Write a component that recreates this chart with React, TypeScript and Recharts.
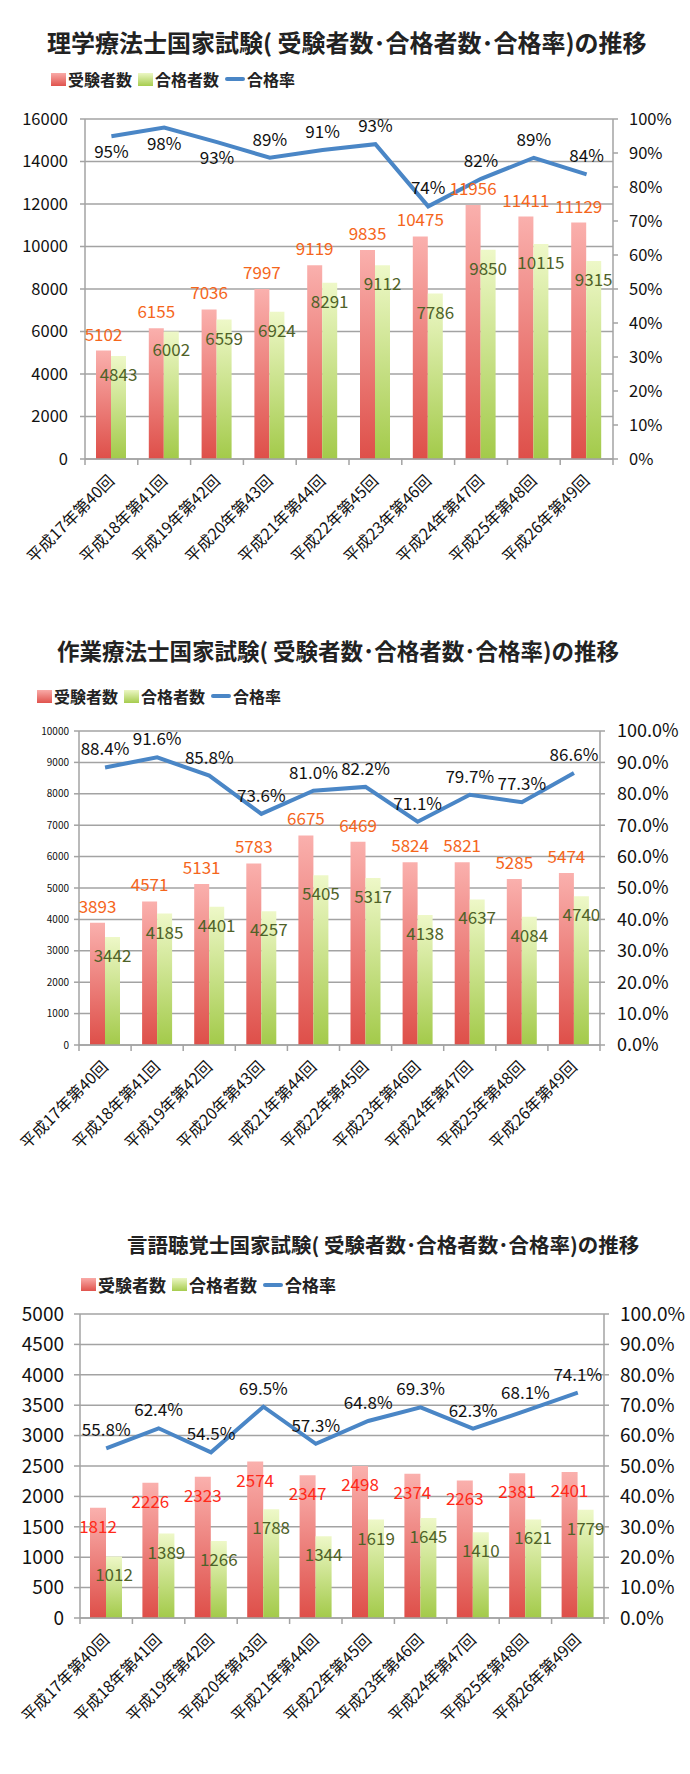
import React from 'react'
import {
  ComposedChart,
  Bar,
  Line,
  XAxis,
  YAxis,
  CartesianGrid,
  LabelList
} from 'recharts'

const categories = [
  '平成17年第40回',
  '平成18年第41回',
  '平成19年第42回',
  '平成20年第43回',
  '平成21年第44回',
  '平成22年第45回',
  '平成23年第46回',
  '平成24年第47回',
  '平成25年第48回',
  '平成26年第49回'
]

// 理学療法士
const ptExaminees = [5102, 6155, 7036, 7997, 9119, 9835, 10475, 11956, 11411, 11129]
const ptPassers = [4843, 6002, 6559, 6924, 8291, 9112, 7786, 9850, 10115, 9315]
const ptRates = [94.9, 97.5, 93.2, 88.6, 90.9, 92.6, 74.3, 82.4, 88.6, 83.7]
const ptRateSides = ['below', 'below', 'below', 'above', 'above', 'above', 'above', 'above', 'above', 'above']
const ptCountTicks = [0, 2000, 4000, 6000, 8000, 10000, 12000, 14000, 16000]

// 作業療法士
const otExaminees = [3893, 4571, 5131, 5783, 6675, 6469, 5824, 5821, 5285, 5474]
const otPassers = [3442, 4185, 4401, 4257, 5405, 5317, 4138, 4637, 4084, 4740]
const otRates = [88.4, 91.6, 85.8, 73.6, 81.0, 82.2, 71.1, 79.7, 77.3, 86.6]
const otCountTicks = [0, 1000, 2000, 3000, 4000, 5000, 6000, 7000, 8000, 9000, 10000]

// 言語聴覚士
const stExaminees = [1812, 2226, 2323, 2574, 2347, 2498, 2374, 2263, 2381, 2401]
const stPassers = [1012, 1389, 1266, 1788, 1344, 1619, 1645, 1410, 1621, 1779]
const stRates = [55.8, 62.4, 54.5, 69.5, 57.3, 64.8, 69.3, 62.3, 68.1, 74.1]
const stCountTicks = [0, 500, 1000, 1500, 2000, 2500, 3000, 3500, 4000, 4500, 5000]

const rateTicks = [0, 10, 20, 30, 40, 50, 60, 70, 80, 90, 100]

const FONT = '"Noto Sans CJK JP", "Noto Sans", sans-serif'
const GRID = '#a3a3a3'
const BLUE = '#4a86c6'
const GREEN_TEXT = '#4f6228'
const W = 690

type Row = { name: string; examinees: number; passers: number; rate: number }

function buildRows(ex: number[], ps: number[], rt: number[]): Row[] {
  return categories.map((name, i) => ({ name, examinees: ex[i], passers: ps[i], rate: rt[i] }))
}

function box(props: any) {
  const vb = props.viewBox || {}
  return {
    x: vb.x ?? props.x,
    y: vb.y ?? props.y,
    width: vb.width ?? props.width ?? 0,
    height: vb.height ?? props.height ?? 0
  }
}

function XTick(props: any) {
  const { x, y, payload, index, band } = props
  return (
    <g>
      <line x1={x - band / 2} y1={y} x2={x - band / 2} y2={y + 6} stroke={GRID} strokeWidth={1.5} />
      {index === categories.length - 1 && (
        <line x1={x + band / 2} y1={y} x2={x + band / 2} y2={y + 6} stroke={GRID} strokeWidth={1.5} />
      )}
      <text
        transform={`translate(${x + 4},${y + 23}) rotate(-45)`}
        textAnchor="end"
        fontSize={16}
        fontFamily={FONT}
        fill="#111"
      >
        {payload.value}
      </text>
    </g>
  )
}

function LegendRow({ left, top, fontSize }: { left: number; top: number; fontSize: number }) {
  const item = { display: 'flex', alignItems: 'center', marginRight: 6 } as React.CSSProperties
  return (
    <div
      style={{
        position: 'absolute',
        left,
        top,
        display: 'flex',
        alignItems: 'center',
        fontFamily: FONT,
        fontSize,
        fontWeight: 'bold',
        color: '#222',
        whiteSpace: 'nowrap',
        lineHeight: 1
      }}
    >
      <div style={item}>
        <span style={{ width: 15, height: 13, background: 'linear-gradient(#f9aaa7, #e0534d)', marginRight: 2 }} />
        受験者数
      </div>
      <div style={item}>
        <span style={{ width: 15, height: 13, background: 'linear-gradient(#ecf7c4, #a6cc4e)', marginRight: 2 }} />
        合格者数
      </div>
      <div style={item}>
        <span style={{ width: 20, height: 4, background: BLUE, borderRadius: 2, marginRight: 2 }} />
        合格率
      </div>
    </div>
  )
}

interface BlockProps {
  id: string
  title: string
  titleLeft: number
  titleTop: number
  titleSize: number
  legendLeft: number
  legendTop: number
  legendSize: number
  top: number
  height: number
  marginTop: number
  xAxisHeight: number
  leftWidth: number
  rightWidth: number
  leftTickSize: number
  leftTickMargin: number
  rightTickMargin: number
  leftFont: number
  rightFont: number
  barSize: number
  examinees: number[]
  passers: number[]
  rates: number[]
  countTicks: number[]
  rateDigits: number
  rateSides?: string[]
  examineeColor: string
  examineeInside: boolean
}

function ChartBlock(p: BlockProps) {
  const rows = buildRows(p.examinees, p.passers, p.rates)
  const band = (W - p.leftWidth - p.rightWidth) / categories.length
  const countMax = p.countTicks[p.countTicks.length - 1]

  const examineeLabel = (props: any) => {
    const b = box(props)
    const cx = b.x + b.width / 2
    const y = p.examineeInside ? b.y + 25 : b.y - 10
    return (
      <text x={cx} y={y} textAnchor="middle" fontSize={17} fontFamily={FONT} fill={p.examineeColor}>
        {props.value}
      </text>
    )
  }

  const passerLabel = (props: any) => {
    const b = box(props)
    return (
      <text x={b.x + b.width / 2} y={b.y + 25} textAnchor="middle" fontSize={17} fontFamily={FONT} fill={GREEN_TEXT}>
        {props.value}
      </text>
    )
  }

  const rateLabel = (props: any) => {
    const b = box(props)
    const side = p.rateSides ? p.rateSides[props.index] : 'above'
    const y = side === 'below' ? b.y + 22 : b.y - 12
    return (
      <text x={b.x} y={y} textAnchor="middle" fontSize={17} fontFamily={FONT} fill="#111">
        {Number(props.value).toFixed(p.rateDigits)}%
      </text>
    )
  }

  return (
    <>
      <div
        style={{
          position: 'absolute',
          left: p.titleLeft,
          top: p.titleTop,
          fontFamily: FONT,
          fontSize: p.titleSize,
          fontWeight: 'bold',
          color: '#222',
          whiteSpace: 'nowrap',
          lineHeight: 1
        }}
      >
        {p.title}
      </div>
      <LegendRow left={p.legendLeft} top={p.legendTop} fontSize={p.legendSize} />
      <div style={{ position: 'absolute', left: 0, top: p.top }}>
        <ComposedChart
          width={W}
          height={p.height}
          data={rows}
          margin={{ top: p.marginTop, right: 0, bottom: 0, left: 0 }}
          barGap={0}
          barSize={p.barSize}
        >
          <defs>
            <linearGradient id={`${p.id}-red`} x1="0" y1="0" x2="0" y2="1">
              <stop offset="0%" stopColor="#fab0ad" />
              <stop offset="100%" stopColor="#de4f49" />
            </linearGradient>
            <linearGradient id={`${p.id}-green`} x1="0" y1="0" x2="0" y2="1">
              <stop offset="0%" stopColor="#eef8c8" />
              <stop offset="100%" stopColor="#a3ca4a" />
            </linearGradient>
          </defs>
          <CartesianGrid yAxisId="left" vertical={false} stroke={GRID} strokeWidth={1.5} />
          <XAxis
            dataKey="name"
            interval={0}
            height={p.xAxisHeight}
            tickSize={0}
            tickMargin={0}
            tickLine={false}
            axisLine={{ stroke: GRID, strokeWidth: 1.5 }}
            tick={(t: any) => <XTick {...t} band={band} />}
          />
          <YAxis
            yAxisId="left"
            domain={[0, countMax]}
            ticks={p.countTicks}
            interval={0}
            width={p.leftWidth}
            tickSize={p.leftTickSize}
            tickMargin={p.leftTickMargin}
            axisLine={{ stroke: GRID, strokeWidth: 1.5 }}
            tickLine={{ stroke: GRID, strokeWidth: 1.5 }}
            tick={{ fontSize: p.leftFont, fill: '#111', fontFamily: FONT }}
          />
          <YAxis
            yAxisId="right"
            orientation="right"
            domain={[0, 100]}
            ticks={rateTicks}
            interval={0}
            width={p.rightWidth}
            tickSize={5}
            tickMargin={p.rightTickMargin}
            axisLine={{ stroke: GRID, strokeWidth: 1.5 }}
            tickLine={{ stroke: GRID, strokeWidth: 1.5 }}
            tick={{ fontSize: p.rightFont, fill: '#111', fontFamily: FONT, textAnchor: 'start' }}
            tickFormatter={(v: number) => `${v.toFixed(p.rateDigits)}%`}
          />
          <Bar yAxisId="left" dataKey="examinees" fill={`url(#${p.id}-red)`} isAnimationActive={false}>
            <LabelList dataKey="examinees" content={examineeLabel} />
          </Bar>
          <Bar yAxisId="left" dataKey="passers" fill={`url(#${p.id}-green)`} isAnimationActive={false}>
            <LabelList dataKey="passers" content={passerLabel} />
          </Bar>
          <Line
            yAxisId="right"
            type="linear"
            dataKey="rate"
            stroke={BLUE}
            strokeWidth={4}
            dot={false}
            isAnimationActive={false}
          >
            <LabelList dataKey="rate" content={rateLabel} />
          </Line>
        </ComposedChart>
      </div>
    </>
  )
}

export default function App() {
  return (
    <div style={{ position: 'absolute', left: 0, top: 0, width: 690, height: 1774, background: '#fff', overflow: 'hidden' }}>
      <ChartBlock
        id="pt"
        title="理学療法士国家試験( 受験者数･合格者数･合格率)の推移"
        titleLeft={47}
        titleTop={30}
        titleSize={24}
        legendLeft={51}
        legendTop={71}
        legendSize={16}
        top={100}
        height={470}
        marginTop={19}
        xAxisHeight={111}
        leftWidth={85}
        rightWidth={77}
        leftTickSize={5}
        leftTickMargin={12}
        rightTickMargin={11}
        leftFont={16.5}
        rightFont={16.5}
        barSize={15}
        examinees={ptExaminees}
        passers={ptPassers}
        rates={ptRates}
        countTicks={ptCountTicks}
        rateDigits={0}
        rateSides={ptRateSides}
        examineeColor="#f5661c"
        examineeInside={false}
      />
      <ChartBlock
        id="ot"
        title="作業療法士国家試験( 受験者数･合格者数･合格率)の推移"
        titleLeft={57}
        titleTop={639}
        titleSize={22.5}
        legendLeft={37}
        legendTop={688}
        legendSize={16}
        top={710}
        height={450}
        marginTop={21}
        xAxisHeight={115}
        leftWidth={79}
        rightWidth={90}
        leftTickSize={5}
        leftTickMargin={5}
        rightTickMargin={12}
        leftFont={10}
        rightFont={18}
        barSize={15}
        examinees={otExaminees}
        passers={otPassers}
        rates={otRates}
        countTicks={otCountTicks}
        rateDigits={1}
        examineeColor="#f5661c"
        examineeInside={false}
      />
      <ChartBlock
        id="st"
        title="言語聴覚士国家試験( 受験者数･合格者数･合格率)の推移"
        titleLeft={127}
        titleTop={1234}
        titleSize={20.5}
        legendLeft={81}
        legendTop={1276}
        legendSize={17}
        top={1290}
        height={460}
        marginTop={24}
        xAxisHeight={132}
        leftWidth={80}
        rightWidth={86}
        leftTickSize={6}
        leftTickMargin={10}
        rightTickMargin={11}
        leftFont={19}
        rightFont={19}
        barSize={16}
        examinees={stExaminees}
        passers={stPassers}
        rates={stRates}
        countTicks={stCountTicks}
        rateDigits={1}
        examineeColor="#ff2a1a"
        examineeInside={true}
      />
    </div>
  )
}
